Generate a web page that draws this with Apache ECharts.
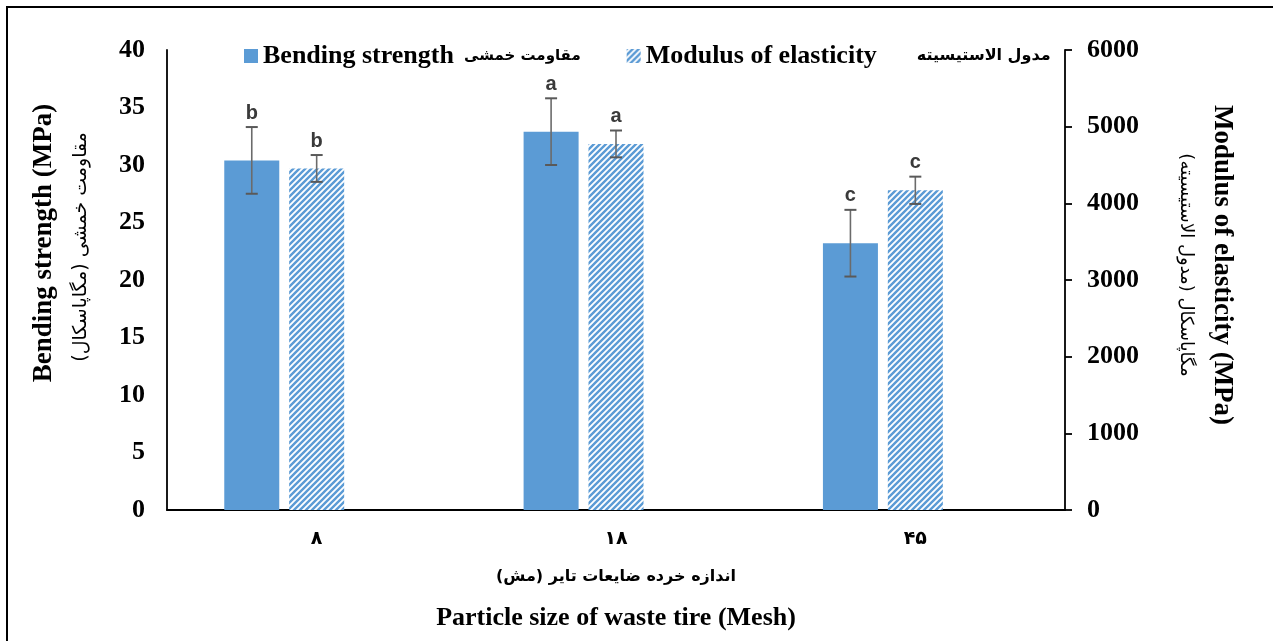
<!DOCTYPE html>
<html>
<head>
<meta charset="utf-8">
<script src="https://cdn.jsdelivr.net/npm/echarts@6/dist/echarts.min.js"></script>
<style>
html,body{margin:0;padding:0;background:#fff;}
#chart{width:1273px;height:641px;}
</style>
</head>
<body>
<div id="chart"></div>
<script>
// ---- data ----
const categories = ['۸', '۱۸', '۴۵'];
const bendingStrength = [30.4, 32.9, 23.2];
const bendingErr = [2.9, 2.9, 2.9];
const bendingLetters = ['b', 'a', 'c'];
const modulus = [4455, 4775, 4170];
const modulusErr = [175, 175, 178];
const modulusLetters = ['b', 'a', 'c'];
const leftAxis = { min: 0, max: 40, interval: 5 };
const rightAxis = { min: 0, max: 6000, interval: 1000 };

// ---- style ----
const BLUE = '#5B9BD5';
const BAR_W = 55;
const GAP = 0.18;
const SERIF = "'Liberation Serif','Times New Roman','DejaVu Sans',serif";
const FA = "'DejaVu Sans','Liberation Serif',sans-serif";

function hatch() {
  const c = document.createElement('canvas');
  c.width = 6; c.height = 6;
  const g = c.getContext('2d');
  g.fillStyle = '#fff'; g.fillRect(0, 0, 6, 6);
  g.strokeStyle = BLUE; g.lineWidth = 2.4;
  g.beginPath();
  g.moveTo(-1, 7); g.lineTo(7, -1);
  g.moveTo(-4, 4); g.lineTo(4, -4);
  g.moveTo(2, 10); g.lineTo(10, 2);
  g.stroke();
  return { image: c, repeat: 'repeat' };
}
const hatchFill = hatch();

function errSeries(name, vals, errs, letters, yIdx, offset) {
  return {
    name: name, type: 'custom', yAxisIndex: yIdx, z: 10, silent: true,
    data: vals.map((v, i) => [i, v, errs[i]]),
    renderItem: function (params, api) {
      const ci = api.value(0), v = api.value(1), e = api.value(2);
      const t = api.coord([ci, v + e]);
      const b = api.coord([ci, v - e]);
      const x = t[0] + offset;
      const cw = 6;
      return {
        type: 'group',
        children: [
          { type: 'line', shape: { x1: x, y1: t[1], x2: x, y2: b[1] }, style: { stroke: '#6b6b6b', lineWidth: 1.6 } },
          { type: 'line', shape: { x1: x - cw, y1: t[1], x2: x + cw, y2: t[1] }, style: { stroke: '#595959', lineWidth: 2 } },
          { type: 'line', shape: { x1: x - cw, y1: b[1], x2: x + cw, y2: b[1] }, style: { stroke: '#595959', lineWidth: 2 } },
          { type: 'text', style: { text: letters[params.dataIndex], x: x, y: t[1] - 4, align: 'center', verticalAlign: 'bottom',
              font: "bold 20px 'Liberation Sans','Open Sans',sans-serif", fill: '#3a3a3a' } }
        ]
      };
    }
  };
}

const chart = echarts.init(document.getElementById('chart'), null, { renderer: 'canvas' });
chart.setOption({
  animation: false,
  backgroundColor: '#fff',
  grid: { left: 167, right: 208, top: 50, bottom: 131, containLabel: false },
  legend: {
    data: ['Bending strength', 'Modulus of elasticity'],
    left: 239, top: 38, itemWidth: 14, itemHeight: 14, itemGap: 46,
    icon: 'rect',
    formatter: function (n) {
      if (n === 'Bending strength') return '{en|Bending strength}{fa|مقاومت خمشی}';
      return '{en|Modulus of elasticity}{fa2|مدول الاستیسیته}';
    },
    textStyle: {
      rich: {
        en: { fontFamily: SERIF, fontWeight: 'bold', fontSize: 26, color: '#000' },
        fa: { fontFamily: FA, fontWeight: 'bold', fontSize: 15, color: '#000', padding: [0, 0, 0, 10] },
        fa2: { fontFamily: FA, fontWeight: 'bold', fontSize: 16, color: '#000', padding: [0, 0, 0, 40] }
      }
    }
  },
  xAxis: {
    type: 'category', data: categories,
    axisLine: { lineStyle: { color: '#000', width: 1.8 } },
    axisTick: { show: false },
    axisLabel: { margin: 20, fontFamily: FA, fontWeight: 'bold', fontSize: 19, color: '#000' },
    splitLine: { show: false }
  },
  yAxis: [
    { type: 'value', min: leftAxis.min, max: leftAxis.max, interval: leftAxis.interval, position: 'left',
      axisLine: { show: true, lineStyle: { color: '#000', width: 1.8 } },
      axisTick: { show: false }, splitLine: { show: false },
      axisLabel: { margin: 22, fontFamily: SERIF, fontWeight: 'bold', fontSize: 26, color: '#000' } },
    { type: 'value', min: rightAxis.min, max: rightAxis.max, interval: rightAxis.interval, position: 'right',
      axisLine: { show: true, lineStyle: { color: '#000', width: 1.8 } },
      axisTick: { show: true, length: 7, lineStyle: { color: '#000', width: 1.8 } }, splitLine: { show: false },
      axisLabel: { margin: 22, fontFamily: SERIF, fontWeight: 'bold', fontSize: 26, color: '#000',
        formatter: function (v) { return String(v); } } }
  ],
  series: [
    { name: 'Bending strength', type: 'bar', yAxisIndex: 0, data: bendingStrength, barWidth: BAR_W, barGap: (GAP * 100) + '%',
      itemStyle: { color: BLUE } },
    { name: 'Modulus of elasticity', type: 'bar', yAxisIndex: 1, data: modulus, barWidth: BAR_W, barGap: (GAP * 100) + '%',
      itemStyle: { color: hatchFill } },
    { name: 'spacer', type: 'bar', yAxisIndex: 0, data: categories.map(() => null), barWidth: BAR_W, barGap: (GAP * 100) + '%' },
    errSeries('errB', bendingStrength, bendingErr, bendingLetters, 0, -BAR_W * (1 + GAP)),
    errSeries('errM', modulus, modulusErr, modulusLetters, 1, 0)
  ],
  graphic: [
    { type: 'rect', shape: { x: 7, y: 7, width: 1400, height: 800 }, style: { fill: 'none', stroke: '#000', lineWidth: 2 }, silent: true },
    { type: 'text', x: 44, y: 243, rotation: Math.PI / 2,
      style: { text: 'Bending strength (MPa)', align: 'center', verticalAlign: 'middle', font: 'bold 27px ' + SERIF, fill: '#000' } },
    { type: 'text', x: 81, y: 247, rotation: Math.PI / 2,
      style: { text: 'مقاومت خمشی (مگاپاسکال)', align: 'center', verticalAlign: 'middle', font: '19px ' + FA, fill: '#000' } },
    { type: 'text', x: 1222, y: 265, rotation: -Math.PI / 2,
      style: { text: 'Modulus of elasticity (MPa)', align: 'center', verticalAlign: 'middle', font: 'bold 27px ' + SERIF, fill: '#000' } },
    { type: 'text', x: 1186, y: 265, rotation: -Math.PI / 2,
      style: { text: 'مگاپاسکال (مدول الاستیسیته)', align: 'center', verticalAlign: 'middle', font: '18px ' + FA, fill: '#000' } },
    { type: 'text', x: 616, y: 577,
      style: { text: 'اندازه خرده ضایعات تایر (مش)', align: 'center', verticalAlign: 'middle', font: 'bold 16px ' + FA, fill: '#000' } },
    { type: 'text', x: 616, y: 618,
      style: { text: 'Particle size of waste tire (Mesh)', align: 'center', verticalAlign: 'middle', font: 'bold 26px ' + SERIF, fill: '#000' } }
  ]
});
</script>
</body>
</html>
